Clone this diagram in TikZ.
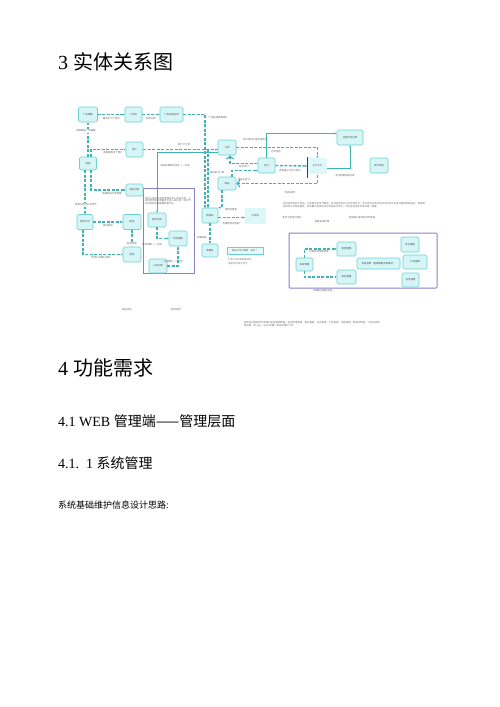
\documentclass[tikz,border=0pt]{standalone}
\usepackage{fontspec}
\setmainfont{Liberation Serif}
\newfontfamily\cjk{Noto Sans CJK SC}
\XeTeXlinebreaklocale "zh"
\XeTeXlinebreakskip = 0pt plus 1pt
\usetikzlibrary{arrows.meta}
\definecolor{linkc}{HTML}{3FB3B3}
\definecolor{boxfill}{HTML}{D6F5F7}
\definecolor{boxline}{HTML}{6CCFD3}
\definecolor{boxframe}{HTML}{8B7FCB}
\newcommand\smalltext{\cjk\fontsize{2.4}{2.9}\selectfont}
\tikzset{
  entity/.style={draw=boxline, fill=boxfill, rounded corners=1.5pt, line width=0.6pt, inner sep=0pt,
    minimum width=17pt, minimum height=14pt, font=\smalltext, text=black!70},
  pale/.style={fill=boxfill!80, inner sep=0pt, font=\smalltext, text=black!60},
  link/.style={draw=linkc, line width=1.1pt, dash pattern=on 3pt off 1.5pt, -{Stealth[length=2.2pt,width=2.2pt]}},
  thinlink/.style={draw=linkc, line width=0.6pt, -{Stealth[length=2.2pt,width=2.2pt]}},
  rel/.style={font=\smalltext, text=black!60, inner sep=0.4pt},
  para/.style={font=\smalltext, text=black!55, inner sep=0pt, align=left},
  heading/.style={anchor=west, inner sep=0pt}
}
\begin{document}
\begin{tikzpicture}[x=1pt,y=-1pt]
\useasboundingbox (0,0) rectangle (500,707);

% headings
\node[heading, font=\fontsize{20}{24}\selectfont] (h3) at (58,62) {3 {\cjk 实体关系图}};
\node[heading, font=\fontsize{20}{24}\selectfont] (h4) at (58,368) {4 {\cjk 功能需求}};
\node[heading, font=\fontsize{14}{17}\selectfont] (h41) at (58,421) {4.1 WEB {\cjk 管理端——管理层面}};
\node[heading, font=\fontsize{14}{17}\selectfont] (h411) at (58,463) {4.1.\ \ 1 {\cjk 系统管理}};
\node[heading, font=\cjk\fontsize{9}{11}\selectfont] (intro) at (58,505) {系统基础维护信息设计思路:};

% frames
\draw[boxframe, line width=0.8pt] (143,188) rectangle (194,273);
\draw[boxframe, line width=1pt, rounded corners=1pt] (289,233) rectangle (437,288);

% entities
\node[entity, minimum width=19pt, minimum height=15pt] (ggcl) at (88,114.5) {广告策略};
\node[entity, minimum height=15pt] (ggw) at (133.5,114.5) {广告位};
\node[entity, minimum width=23pt, minimum height=15pt] (tfjl) at (171.5,114.5) {广告投放记录};
\node[entity, minimum height=13pt] (sj) at (88,163.5) {商家};
\node[entity, minimum height=15pt] (yh) at (134.5,149.5) {用户};
\node[entity, minimum height=12pt] (spfl) at (134.5,190) {商品分类};
\node[entity, minimum width=18pt, minimum height=15pt] (dd) at (227,147.5) {订单};
\node[entity, minimum height=15pt] (zf) at (266.5,165.5) {支付};
\node[entity, minimum width=18pt, minimum height=13pt] (sp) at (227,183.5) {商品};
\node[pale, minimum width=19pt, minimum height=16pt] (zfpt) at (317.5,166) {支付平台};
\node[entity, minimum width=26pt, minimum height=15pt] (jsjl) at (350,137.5) {交易流水记录};
\node[entity, minimum width=18pt, minimum height=15pt] (pjxt) at (379,165.5) {评价系统};
\node[entity, minimum width=16pt, minimum height=15pt] (wlgs) at (85,222) {物流公司};
\node[entity, minimum width=18pt, minimum height=15pt] (ps) at (132,222) {配送};
\node[entity, minimum width=18pt, minimum height=15pt] (sh) at (132,254.5) {收货};
\node[entity, minimum width=18pt] (kcjl) at (157,220) {库存记录};
\node[entity, minimum width=18pt, minimum height=15pt] (ckgl) at (178,238.5) {仓库管理};
\node[entity, minimum width=18pt] (rkjl) at (158,266) {入库记录};
\node[entity, minimum width=16pt, minimum height=15pt] (gwc) at (210,215.5) {购物车};
\node[entity, minimum width=16pt, minimum height=13pt] (scj) at (210,250.5) {收藏夹};
\node[pale, minimum width=21pt, minimum height=16pt] (yhq) at (255.5,216) {优惠券};
\node[draw=boxline, fill=boxfill!60, line width=0.4pt, minimum width=36pt, minimum height=7pt, inner sep=0pt,
  font=\smalltext, text=black!60] (bz) at (245,251) {商品评论与晒单（图片）};
\node[entity, minimum height=13pt] (xtgl) at (304.5,264.5) {系统管理};
\node[entity, minimum width=19pt] (qxgl) at (346.5,249) {权限管理};
\node[entity, minimum width=19pt] (jsgl) at (346.5,277) {角色管理};
\node[entity, minimum width=43pt, minimum height=11pt] (sjzd) at (378.5,263.5) {系统参数（基础数据字典维护）};
\node[entity, minimum width=18pt, minimum height=15pt] (rzgl) at (410,244.5) {日志管理};
\node[entity, minimum width=24pt] (gggl) at (415,262) {公告管理};
\node[entity] (xxgl) at (410.5,280) {消息管理};

% helper points
\coordinate (v1) at (205,208);
\coordinate (v2top) at (208,149.5);
\coordinate (v2bot) at (208,208);
\coordinate (c1) at (218,152);
\coordinate (bar) at (307,166);
\coordinate (bar1) at (307,157);
\coordinate (bar2) at (307,178);

% upper part
\draw[link] (ggcl) -- (ggw) node[rel, midway, below=2pt] {拥有多个广告位};
\draw[link] (ggw) -- (tfjl) node[rel, midway, below=2pt] {投放记录};
\draw[link] (tfjl.east) -| (v1);
\node[rel, anchor=west] (l1) at (208,118) {广告投放效果统计};
\draw[link] (sj.north) -- (ggcl.south);
\node[rel, fill=white] (l2) at (86,131) {商家拥有广告策略};
\draw[link] ([xshift=3pt]sj.north) |- (yh.west);
\node[rel] (l3) at (113,153) {商家拥有多个用户};
\draw[link] ([xshift=3pt]sj.south) |- (spfl.west);
\node[rel] (l4) at (112,194) {商家商品分类管理};
\draw[link] (yh.east) -- (yh.east -| dd.west);
\node[rel] (l5) at (184,145) {用户下订单};
\draw[link] (v2top) -- (v2bot);
\draw[thinlink] (c1) -| (kcjl.north);
\node[rel, anchor=west] (l6) at (160,166) {商品关联库存信息（一对多）};
\draw[link, <-] ([xshift=3pt]dd.south) |- ([yshift=2pt]zf.west);
\node[rel] (l7) at (244,167) {会员支付};
\draw[link] (dd.east) -| (zfpt.north);
\node[rel] (l8) at (276,152) {订单信息};
\draw[link, <-] (sp.east) -| (zfpt.south);
\draw[link, line width=1.4pt] (zf.east) -- (bar);
\draw[black!75, line width=0.7pt] (bar1) -- (bar2);
\node[rel] (l9) at (290,171) {调用第三方支付接口};
\draw[thinlink] (zf.north) |- ([yshift=4pt]jsjl.west);
\node[rel] (l10) at (255,140) {支付成功生成交易流水};
\draw[thinlink] ([yshift=-2pt]zfpt.east) -| (jsjl.south);
\node[rel] (l11) at (345,176) {支付结果回调记录};
\draw[link] ([xshift=5pt]sp.north) |- ([yshift=-5pt]zf.west);
\node[rel] (l12) at (244,180) {商品已支付};
\node[rel] (l13) at (217,173) {商品属于订单};
\draw[link] ([xshift=-5pt]sp.south) |- (gwc.north east);

% lower part
\draw[link] ([yshift=-2pt]gwc.east) -- ([yshift=-2pt]gwc.east -| yhq.west);
\node[rel] (l14) at (231,210) {使用优惠券};
\node[rel] (l15) at (231,224) {优惠券抵扣金额};
\draw[link] (gwc.south) -- (scj.north);
\node[rel] (l16) at (202,238) {收藏商品};
\node[para, anchor=north west] (l17) at (227,256.5) {$|$ 用户对已购商品评论\\\ \ 商品评价统计显示};
\draw[link] (wlgs) -- (ps) node[rel, midway, below=2pt] {委托配送};
\draw[link] (ps) -- (sh);
\draw[link] ([xshift=-2pt]wlgs.south) |- (sh.west);
\node[rel] (l18) at (101,258) {物流公司确认收货};
\draw[link] (wlgs.north |- sj.south) -- (wlgs.north);
\node[rel, fill=white] (l19) at (86,205) {商家与物流公司合作};
\node[rel, fill=white] (l20) at (132,244) {配送完成};
\draw[link] (kcjl.south) |- (ckgl.west);
\node[rel] (l21) at (153,245) {库存明细（一对多）};
\draw[link] (rkjl.east) -| (ckgl.south);
\node[rel] (l22) at (174,262) {入库更新（一对多）};

% right frame
\draw[link] (xtgl.north) |- (qxgl.west);
\node[rel] (l23) at (319,252) {分配系统管理权限};
\draw[link] (xtgl.south) |- (jsgl.west);
\node[rel] (l24) at (323,291) {管理系统角色信息};

% notes
\node[para, text width=46pt] (n1) at (168,201) {商品入库时由仓库管理员录入库存信息，入库后更新库存数量并生成入库记录，库存不足时系统自动提醒商家补货};
\node[rel] (n2) at (290,193) {附加说明};
\node[para, text width=142pt] (n3) at (354,205) {会员购买商品下单后，订单提交至支付模块，会员选择支付方式完成支付；支付成功后系统生成交易流水记录并通知商家发货，商家委托物流公司配送商品；会员确认收货后可对商品进行评价，评价信息由评价系统统一管理。};
\node[rel] (n4) at (292,218) {会员下单支付成功};
\node[rel] (n5) at (322,222) {商家发货处理};
\node[rel] (n6) at (362,218) {会员确认收货后评价商品};
\node[para, text width=136pt] (n7) at (312,324) {系统后台管理员负责维护系统基础数据，包括权限管理、角色管理、日志管理、公告管理、消息管理、数据字典等，以及系统参数设置（如 App、Web 配置）等日常维护工作。};
\node[rel] (n8) at (127,310) {商品信息};
\node[rel] (n9) at (176,310) {库存信息};
\end{tikzpicture}
\end{document}
